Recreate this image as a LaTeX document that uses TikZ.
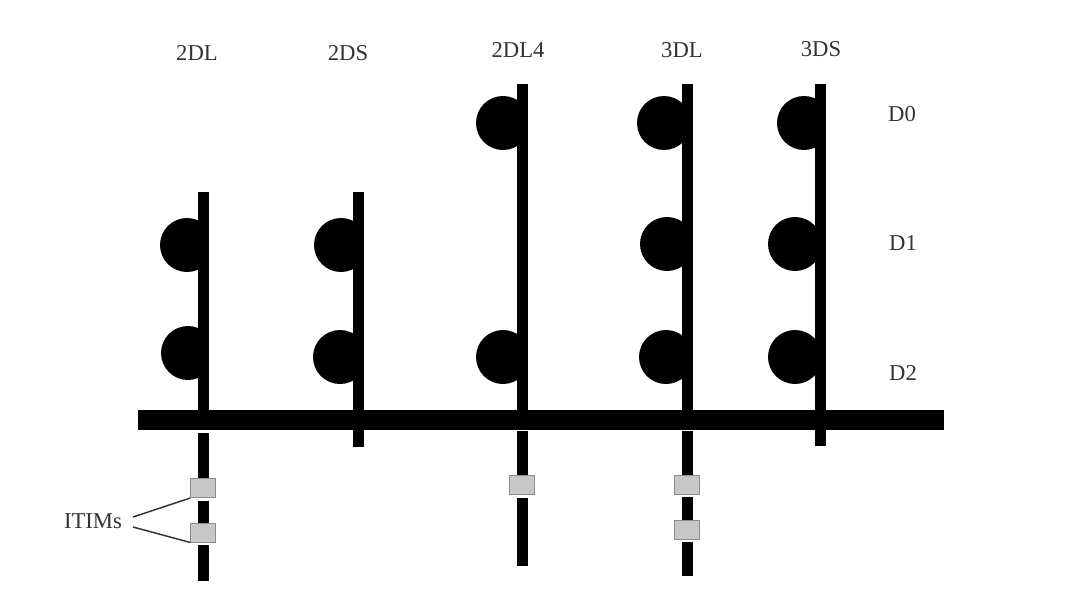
\documentclass[tikz,border=0pt]{standalone}
\usepackage{fontspec}
\setmainfont{Liberation Serif}
\tikzset{
  rail/.style={line width=8.25pt, black},
  busbar/.style={line width=15pt, black},
  itim/.style={
    draw=black!45, line width=0.5pt, fill=black!22, rectangle, inner sep=0pt,
    minimum width=18.5pt, minimum height=14.5pt
  },
  lbl/.style={font=\fontsize{17}{20}\selectfont, text=black!80, inner sep=0pt},
  leader/.style={line width=1.1pt, black!80},
}

\begin{document}
\begin{tikzpicture}[x=0.75pt, y=-0.75pt]
  \useasboundingbox (0,0) rectangle (1071,597);
  % column and level labels
  \node[lbl] (l2dl) at (197,53) {2DL};
  \node[lbl] (l2ds) at (348,53) {2DS};
  \node[lbl] (l2dlf) at (518,50) {2DL4};
  \node[lbl] (l3dl) at (682,50) {3DL};
  \node[lbl] (l3ds) at (821,49) {3DS};
  \node[lbl] (d0) at (902,114) {D0};
  \node[lbl] (d1) at (903,243) {D1};
  \node[lbl] (d2) at (903,373) {D2};
  % half discs, cut off at the rail
  \foreach \lft/\cy/\rgt in {160/245/203, 161/353/203, 314/245/358, 313/357/358,
      476/123/522, 476/357/522, 637/123/687, 640/244/687, 639/357/687,
      777/123/820, 768/244/820, 768/357/820} {
    \begin{scope}
      \clip (\lft,\cy-30) rectangle (\rgt,\cy+30);
      \fill (\lft+27,\cy) circle[radius=27];
    \end{scope}
  }
  % rails
  \foreach \nm/\rx/\rtop/\rbot in {a/203/192/412, b/358/192/447, c/522/84/412, d/687/84/412, e/820/84/446} {
    \coordinate (\nm top) at (\rx,\rtop);
    \coordinate (\nm bot) at (\rx,\rbot);
    \draw[rail] (\nm top) -- (\nm bot);
  }
  \coordinate (busl) at (138,420);
  \coordinate (busr) at (944,420);
  \draw[busbar] (busl) -- (busr);
  % ITIM boxes below the bar
  \node[itim] (ia) at (203,488) {};
  \node[itim] (ib) at (203,532.5) {};
  \node[itim] (ic) at (522,485) {};
  \node[itim] (id) at (687,484.5) {};
  \node[itim] (ie) at (687,529.5) {};
  \coordinate (atail) at (203,433);
  \coordinate (aend) at (203,581);
  \coordinate (ctail) at (522,431);
  \coordinate (cend) at (522,566);
  \coordinate (dtail) at (687,431);
  \coordinate (dend) at (687,576);
  \draw[rail] (atail) -- (ia.north);
  \draw[rail, shorten <=2pt] (ia.south) -- (ib.north);
  \draw[rail, shorten <=2pt] (ib.south) -- (aend);
  \draw[rail] (ctail) -- (ic.north);
  \draw[rail, shorten <=2pt] (ic.south) -- (cend);
  \draw[rail] (dtail) -- (id.north);
  \draw[rail, shorten <=2pt] (id.south) -- (ie.north);
  \draw[rail, shorten <=2pt] (ie.south) -- (dend);
  % label with its two leaders
  \node[lbl] (itims) at (93,521) {ITIMs};
  \coordinate (forka) at (133,517);
  \coordinate (forkb) at (133,527);
  \draw[leader] (forka) -- (ia.south west);
  \draw[leader] (forkb) -- (ib.south west);
\end{tikzpicture}
\end{document}
